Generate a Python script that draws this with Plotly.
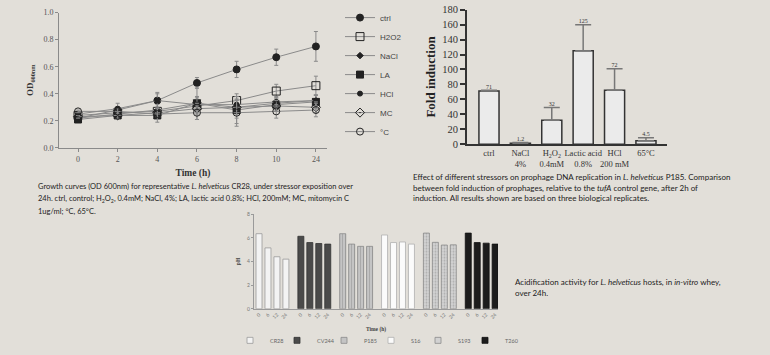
import plotly.graph_objects as go

BG = "#e2dfd9"
SERIF = "Liberation Serif"
SANS = "Lato"

# ---------- Panel 1: growth curves ----------
time_labels = ["0", "2", "4", "6", "8", "10", "24"]
series_names = ["ctrl", "H2O2", "NaCl", "LA", "HCl", "MC", "°C"]
od_ctrl = [0.22, 0.28, 0.35, 0.48, 0.58, 0.67, 0.75]
od_h2o2 = [0.24, 0.26, 0.27, 0.31, 0.35, 0.42, 0.46]
od_nacl = [0.22, 0.25, 0.28, 0.33, 0.30, 0.33, 0.35]
od_la = [0.21, 0.24, 0.24, 0.33, 0.28, 0.32, 0.34]
od_hcl = [0.25, 0.29, 0.35, 0.32, 0.32, 0.34, 0.35]
od_mc = [0.23, 0.24, 0.26, 0.29, 0.30, 0.31, 0.30]
od_heat = [0.27, 0.27, 0.25, 0.26, 0.26, 0.27, 0.28]
err_ctrl = [0.01, 0.02, 0.06, 0.04, 0.06, 0.06, 0.11]
err_h2o2 = [0.01, 0.02, 0.03, 0.03, 0.05, 0.05, 0.07]
err_nacl = [0.01, 0.03, 0.04, 0.05, 0.05, 0.04, 0.04]
err_la = [0.01, 0.02, 0.05, 0.12, 0.10, 0.04, 0.05]
err_hcl = [0.01, 0.04, 0.05, 0.05, 0.04, 0.04, 0.04]
err_mc = [0.01, 0.02, 0.03, 0.04, 0.08, 0.04, 0.04]
err_heat = [0.01, 0.02, 0.04, 0.05, 0.10, 0.05, 0.05]

od_values = [od_ctrl, od_h2o2, od_nacl, od_la, od_hcl, od_mc, od_heat]
od_errors = [err_ctrl, err_h2o2, err_nacl, err_la, err_hcl, err_mc, err_heat]
od_symbols = ["circle", "square-open", "diamond", "square-x", "circle", "diamond-open-dot", "circle-open"]
od_sizes = [7, 8, 5, 7, 5, 7, 7]

# ---------- Panel 2: fold induction ----------
stressors = ["ctrl", "NaCl<br>4%", "H<sub>2</sub>O<sub>2</sub><br>0.4mM", "Lactic acid<br>0.8%", "HCl<br>200 mM", "65°C"]
fold = [71, 1.2, 32, 125, 72, 4.5]
fold_err = [1, 1, 17, 35, 29, 4]
fold_labels = ["71", "1.2", "32", "125", "72", "4.5"]

# ---------- Panel 3: acidification ----------
strains = ["CR28", "CV244", "P185", "S16", "S193", "T260"]
ph_times = ["0", "6", "12", "24"]
ph_cr28 = [6.35, 5.15, 4.4, 4.2]
ph_cv244 = [6.13, 5.6, 5.52, 5.47]
ph_p185 = [6.35, 5.47, 5.28, 5.28]
ph_s16 = [6.24, 5.6, 5.65, 5.47]
ph_s193 = [6.4, 5.62, 5.39, 5.41]
ph_t260 = [6.4, 5.6, 5.55, 5.47]
ph_values = [ph_cr28, ph_cv244, ph_p185, ph_s16, ph_s193, ph_t260]
strain_fill = ["#f3f3f3", "#4a4a4a", "#c4c4c4", "#fbfbfb", "#d2d2d2", "#1c1c1c"]
strain_line = ["#9a9a9a", "#333333", "#8a8a8a", "#b0b0b0", "#8a8a8a", "#111111"]
strain_pattern = ["", "", "|", "", ".", ""]
GROUP_STEP = 4.67

fig = go.Figure()

for name, vals, errs, sym, sz in zip(series_names, od_values, od_errors, od_symbols, od_sizes):
    fig.add_trace(go.Scatter(
        x=time_labels, y=vals, name=name, mode="lines+markers",
        line=dict(color="#8a8a8a", width=1),
        marker=dict(symbol=sym, size=sz, color="#222222", line=dict(color="#222222", width=1)),
        error_y=dict(type="data", array=errs, color="#8a8a8a", thickness=1, width=2),
        xaxis="x", yaxis="y", legend="legend",
    ))

fig.add_trace(go.Bar(
    x=stressors, y=fold, width=0.64, showlegend=False,
    marker=dict(color="#ebebeb", line=dict(color="#333333", width=1.5)),
    error_y=dict(type="data", array=fold_err, arrayminus=[0] * len(fold), symmetric=False,
                 color="#777777", thickness=1.5, width=8),
    xaxis="x2", yaxis="y2",
))
fig.add_trace(go.Scatter(
    x=stressors, y=[v + e for v, e in zip(fold, fold_err)], mode="text",
    text=fold_labels, textposition="top center",
    textfont=dict(family=SERIF, size=6, color="#333333"),
    showlegend=False, xaxis="x2", yaxis="y2", hoverinfo="skip",
))

tick_pos, tick_txt = [], []
for g, (strain, vals) in enumerate(zip(strains, ph_values)):
    pos = [g * GROUP_STEP + i for i in range(len(ph_times))]
    tick_pos += pos
    tick_txt += ph_times
    fig.add_trace(go.Bar(
        x=pos, y=vals, width=0.67, name=strain, legendgroup=strain, showlegend=False,
        marker=dict(color=strain_fill[g], line=dict(color=strain_line[g], width=0.8),
                    pattern=dict(shape=strain_pattern[g], fgcolor="#8a8a8a", size=3, solidity=0.3)),
        xaxis="x3", yaxis="y3",
    ))
    # legend swatch for this strain (no data drawn)
    fig.add_trace(go.Scatter(
        x=[None], y=[None], mode="markers", name=strain, legendgroup=strain,
        marker=dict(symbol="square", size=6, color=strain_fill[g], line=dict(color=strain_line[g], width=0.8)),
        xaxis="x3", yaxis="y3", legend="legend2",
    ))
# invisible spacer entry so the last legend label is not clipped
fig.add_trace(go.Scatter(
    x=[None], y=[None], mode="markers", name=" ",
    marker=dict(size=1, color="rgba(0,0,0,0)", line=dict(width=0, color="rgba(0,0,0,0)")),
    xaxis="x3", yaxis="y3", legend="legend2", hoverinfo="skip",
))

W, H = 770, 355
def dx(a, b):
    return [a / W, b / W]
def dy(top, bottom):
    return [1 - bottom / H, 1 - top / H]

small_serif = dict(family=SERIF, size=8, color="#555555")

fig.update_layout(
    width=W, height=H, margin=dict(l=0, r=0, t=0, b=0),
    paper_bgcolor=BG, plot_bgcolor=BG,
    barmode="overlay",
    xaxis=dict(domain=dx(59, 327), anchor="y", type="category", range=[-0.48, 6.28],
               showline=True, linecolor="#8a8a8a", ticks="outside", ticklen=3, tickcolor="#8a8a8a",
               tickfont=small_serif, showgrid=False, zeroline=False,
               title=dict(text="<b>Time (h)</b>", font=dict(family=SERIF, size=9.5, color="#333333"), standoff=6)),
    yaxis=dict(domain=dy(8, 151), anchor="x", range=[0, 1], dtick=0.2, tickformat=".1f",
               showline=True, linecolor="#8a8a8a", ticks="outside", ticklen=3, tickcolor="#8a8a8a",
               tickfont=small_serif, showgrid=False, zeroline=False,
               title=dict(text="<b>OD<sub>600nm</sub></b>", font=dict(family=SERIF, size=9, color="#333333"), standoff=8)),
    xaxis2=dict(domain=dx(467, 667), anchor="y2", type="category", range=[-0.7, 5.67],
                showline=True, linecolor="#333333", linewidth=2, ticks="", showgrid=False, zeroline=False,
                tickangle=0, tickfont=dict(family=SERIF, size=8.5, color="#333333")),
    yaxis2=dict(domain=dy(5, 147), anchor="x2", range=[0, 180], dtick=20,
                showline=True, linecolor="#333333", linewidth=2, ticks="outside", ticklen=5, tickwidth=2,
                tickcolor="#333333", showgrid=False, zeroline=False,
                tickfont=dict(family=SERIF, size=10.5, color="#333333"),
                title=dict(text="<b>Fold induction</b>", font=dict(family=SERIF, size=13, color="#222222"), standoff=4)),
    xaxis3=dict(domain=dx(254, 498), anchor="y3", range=[-0.56, 26.67],
                tickvals=tick_pos, ticktext=tick_txt, tickangle=-45,
                showline=True, linecolor="#9a9a9a", ticks="", showgrid=False, zeroline=False,
                tickfont=dict(family=SANS, size=5, color="#777777"),
                title=dict(text="<b>Time (h)</b>", font=dict(family=SERIF, size=5.5, color="#444444"), standoff=8)),
    yaxis3=dict(domain=dy(221, 321), anchor="x3", range=[0, 8], dtick=2,
                showline=True, linecolor="#9a9a9a", ticks="outside", ticklen=2, tickcolor="#9a9a9a",
                showgrid=False, zeroline=False,
                tickfont=dict(family=SANS, size=5, color="#777777"),
                title=dict(text="<b>pH</b>", font=dict(family=SERIF, size=5.5, color="#444444"), standoff=6)),
    legend=dict(x=340 / W, y=1 + 2 / H, xanchor="left", yanchor="top", bgcolor="rgba(0,0,0,0)",
                font=dict(family="Liberation Sans", size=8, color="#444444"), itemwidth=30,
                tracegroupgap=0),
    legend2=dict(x=230 / W, y=1 - 339 / H, xanchor="left", yanchor="top", orientation="h",
                 bgcolor="rgba(0,0,0,0)", entrywidth=2, entrywidthmode="pixels",
                 font=dict(family=SANS, size=5.5, color="#666666"), itemwidth=30),
)

captions = [
    (36, 192, 7.5, "Growth curves (OD 600nm) for representative <i>L. helveticus</i> CR28, under stressor exposition over"),
    (36, 205, 7.5, "24h. ctrl, control; H<sub>2</sub>O<sub>2</sub>, 0.4mM; NaCl, 4%; LA, lactic acid 0.8%; HCl, 200mM; MC, mitomycin C"),
    (36, 218, 7.5, "1ug/ml; °C, 65°C."),
    (411, 182, 8, "Effect of different stressors on prophage DNA replication in <i>L. helveticus</i> P185. Comparison"),
    (411, 193, 8, "between fold induction of prophages, relative to the <i>tufA</i> control gene, after 2h of"),
    (411, 204, 8, "induction. All results shown are based on three biological replicates."),
    (513, 293, 8, "Acidification activity for <i>L. helveticus</i> hosts, in <i>in-vitro</i> whey,"),
    (513, 304, 8, "over 24h."),
]
for cx, cy, fs, txt in captions:
    fig.add_annotation(x=cx / W, y=1 - cy / H, xref="paper", yref="paper", xanchor="left", yanchor="middle",
                       text=txt, showarrow=False, font=dict(family=SANS, size=fs, color="#222222"))

fig.write_html("out.html")
